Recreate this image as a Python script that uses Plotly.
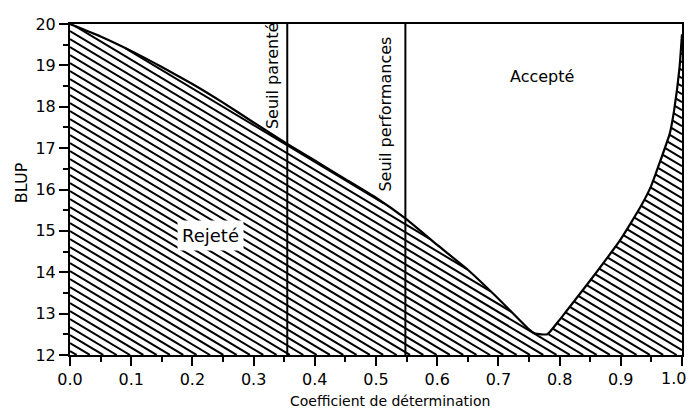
import numpy as np
import plotly.graph_objects as go

# ---- data ----
coef = [0.0, 0.05, 0.1, 0.15, 0.2, 0.25, 0.3, 0.355, 0.4, 0.45, 0.5, 0.548, 0.6, 0.65,
        0.7, 0.75, 0.76, 0.78, 0.8, 0.85, 0.9, 0.933, 0.95, 0.966, 0.98, 0.987, 0.996, 1.0]
blup = [20.0, 19.7, 19.35, 18.96, 18.55, 18.1, 17.62, 17.1, 16.7, 16.25, 15.8, 15.3,
        14.66, 14.06, 13.36, 12.62, 12.52, 12.5, 12.85, 13.8, 14.8, 15.6, 16.1, 16.75,
        17.35, 17.9, 18.95, 19.75]
seuils = [0.355, 0.548]
seuil_labels = ["Seuil parenté", "Seuil performances"]
x_ticks = [0.0, 0.1, 0.2, 0.3, 0.4, 0.5, 0.6, 0.7, 0.8, 0.9, 1.0]
y_ticks = [12, 13, 14, 15, 16, 17, 18, 19, 20]

FONT = "DejaVu Sans"
W, H = 689, 409
ML, MR, MT, MB = 70, 7, 24, 54
pw, ph = W - ML - MR, H - MT - MB
ymin, ymax = 12, 20

# ---- hatch lines (decoration) clipped to the region under the curve ----
slope_px = 0.6          # pixels down per pixel right
spacing_px = 8.0        # vertical spacing in pixels
px_per_x = pw / 1.0
px_per_y = ph / (ymax - ymin)
k = slope_px * px_per_x / px_per_y
dc = spacing_px / px_per_y
xs = np.linspace(0, 1, 4001)
fs = np.interp(xs, coef, blup)
hx, hy = [], []
c = ymin + dc / 2
while c < ymax + k + dc:
    ys = c - k * xs
    inside = (ys >= ymin) & (ys <= fs)
    if inside.any():
        idx = np.where(inside)[0]
        breaks = np.where(np.diff(idx) > 1)[0]
        starts = np.concatenate([[idx[0]], idx[breaks + 1]])
        ends = np.concatenate([idx[breaks], [idx[-1]]])
        for s, e in zip(starts, ends):
            hx += [xs[s], xs[e], None]
            hy += [ys[s], ys[e], None]
    c += dc

fig = go.Figure()
fig.add_trace(go.Scatter(x=hx, y=hy, mode="lines",
                         line=dict(color="black", width=2),
                         hoverinfo="skip", showlegend=False))
fig.add_trace(go.Scatter(x=coef, y=blup, mode="lines",
                         line=dict(color="black", width=2.2, shape="spline", smoothing=0.4),
                         showlegend=False))
for s in seuils:
    fig.add_trace(go.Scatter(x=[s, s], y=[ymin, ymax], mode="lines",
                             line=dict(color="black", width=2),
                             showlegend=False))

# labels
label_pos = [(0.33, 18.74), (0.516, 17.83)]
for (lx, ly), txt in zip(label_pos, seuil_labels):
    fig.add_annotation(x=lx, y=ly, text=txt, textangle=-90, showarrow=False,
                       font=dict(family=FONT, size=16, color="black"))
fig.add_annotation(x=0.229, y=14.9, text="Rejeté", showarrow=False,
                   bgcolor="white", borderpad=4,
                   font=dict(family=FONT, size=18, color="black"))
fig.add_annotation(x=0.771, y=18.74, text="Accepté", showarrow=False,
                   font=dict(family=FONT, size=16, color="black"))
fig.add_annotation(x=0.523, y=-0.138, xref="paper", yref="paper",
                   text="Coefficient de détermination", showarrow=False,
                   xanchor="center", yanchor="middle",
                   font=dict(family=FONT, size=14, color="black"))
fig.add_annotation(x=-0.078, y=0.52, xref="paper", yref="paper",
                   text="BLUP", showarrow=False, textangle=-90,
                   xanchor="center", yanchor="middle",
                   font=dict(family=FONT, size=16, color="black"))
# last x tick label, kept inside the page's right edge
fig.add_annotation(x=(W - ML - 1) / pw, y=ymin, xref="paper", yref="y",
                   yshift=-23, text=f"{x_ticks[-1]:.1f}", showarrow=False,
                   xanchor="right", yanchor="middle",
                   font=dict(family=FONT, size=16, color="black"))

fig.update_xaxes(range=[0, 1], tickvals=x_ticks,
                 ticktext=[f"{v:.1f}" for v in x_ticks[:-1]] + [""],
                 automargin=False,
                 ticks="outside", ticklen=9, tickwidth=2, tickcolor="black",
                 minor=dict(dtick=0.05, ticks="outside", ticklen=5, tickwidth=2,
                            tickcolor="black", showgrid=False),
                 showline=True, linecolor="black", linewidth=2, mirror=True,
                 showgrid=False, zeroline=False,
                 tickfont=dict(family=FONT, size=16, color="black"))
fig.update_yaxes(range=[ymin, ymax], tickvals=y_ticks, automargin=False,
                 ticks="outside", ticklen=9, tickwidth=2, tickcolor="black",
                 minor=dict(dtick=0.5, ticks="outside", ticklen=5, tickwidth=2,
                            tickcolor="black", showgrid=False),
                 showline=True, linecolor="black", linewidth=2, mirror=True,
                 showgrid=False, zeroline=False,
                 tickfont=dict(family=FONT, size=16, color="black"))
fig.update_layout(width=W, height=H,
                  margin=dict(l=ML, r=MR, t=MT, b=MB),
                  paper_bgcolor="white", plot_bgcolor="white",
                  font=dict(family=FONT, color="black"))
fig.write_html("out.html")
